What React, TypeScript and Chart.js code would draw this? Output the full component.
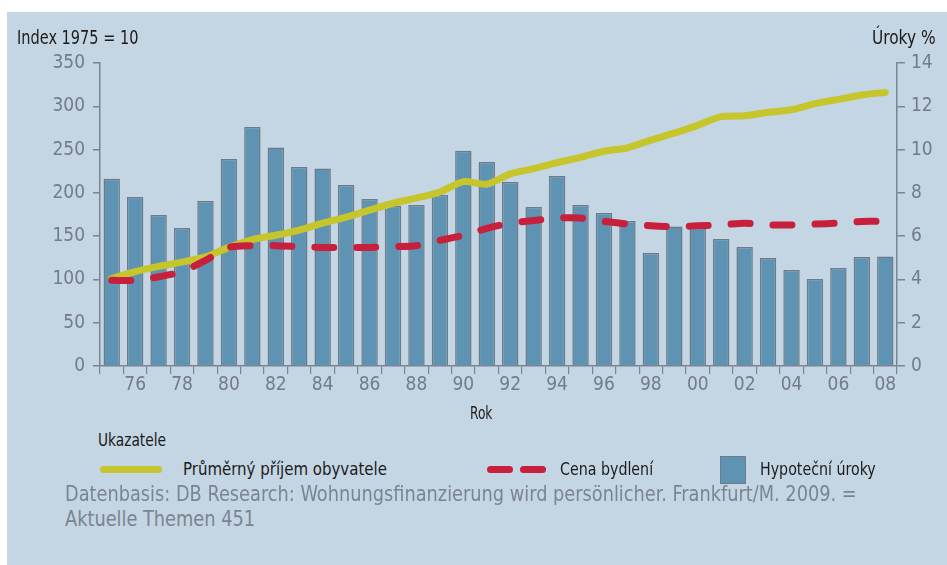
import React, { useEffect, useRef } from "react";
import { Chart, registerables } from "chart.js";

Chart.register(...registerables);

const years = [
  1975, 1976, 1977, 1978, 1979, 1980, 1981, 1982, 1983, 1984, 1985, 1986,
  1987, 1988, 1989, 1990, 1991, 1992, 1993, 1994, 1995, 1996, 1997, 1998,
  1999, 2000, 2001, 2002, 2003, 2004, 2005, 2006, 2007, 2008,
];

// Průměrný příjem obyvatele (index, left axis)
const income = [
  101, 109, 115, 120, 126, 137, 146, 151, 157, 165, 172, 180, 188, 194, 201,
  213, 210, 222, 228, 235, 241, 248, 252, 261, 269, 278, 288, 289, 293, 296,
  303, 308, 313, 316,
];

// Cena bydlení (index, left axis)
const housing = [
  99, 99, 103, 109, 122, 137, 139, 139, 138, 137, 137, 137, 138, 139, 145,
  151, 159, 165, 168, 171, 171, 167, 164, 162, 161, 162, 163, 165, 163, 163,
  164, 165, 167, 167,
];

// Hypoteční úroky (%, right axis)
const rates = [
  8.65, 7.81, 6.98, 6.38, 7.62, 9.57, 11.04, 10.1, 9.2, 9.12, 8.36, 7.72,
  7.4, 7.44, 7.9, 9.94, 9.43, 8.5, 7.35, 8.78, 7.44, 7.07, 6.7, 5.22, 6.45,
  6.38, 5.87, 5.5, 4.99, 4.44, 4.02, 4.53, 5.04, 5.06,
];

const leftTicks = [0, 50, 100, 150, 200, 250, 300, 350];
const rightTicks = [0, 2, 4, 6, 8, 10, 12, 14];

const FONT = "'Liberation Sans Narrow', 'Arial Narrow', 'DejaVu Sans Condensed', sans-serif";
const AXIS = "#7b8591";
const TICKTXT = "#737c87";
const YELLOW = "#c6c52c";
const RED = "#c8203c";
const BAR = "#5f93b4";
const BARBORDER = "#6e7a86";
const BG = "#c4d5e3";

function Txt(props: { x: number; y: number; size: number; sx?: number; color?: string; children: any }) {
  const { x, y, size, sx, color, children } = props;
  return (
    <div
      style={{
        position: "absolute",
        left: x - 7,
        top: y - 12 - size * 0.49,
        fontFamily: FONT,
        fontSize: size,
        lineHeight: "1",
        color: color || "#1c1c1c",
        whiteSpace: "nowrap",
        transform: "scaleX(" + (sx || 1) + ")",
        transformOrigin: "left center",
      }}
    >
      {children}
    </div>
  );
}

function Box(props: { x: number; y: number; w: number; h: number; style: any }) {
  const { x, y, w, h, style } = props;
  return (
    <div
      style={{
        position: "absolute",
        left: x - 7,
        top: y - 12,
        width: w,
        height: h,
        boxSizing: "border-box",
        ...style,
      }}
    />
  );
}

export default function App() {
  const ref = useRef<HTMLCanvasElement | null>(null);

  useEffect(() => {
    if (!ref.current) return;
    const chart = new Chart(ref.current, {
      type: "bar",
      data: {
        labels: years.map(String),
        datasets: [
          {
            type: "line",
            label: "Cena bydlení",
            data: housing,
            yAxisID: "y",
            borderColor: RED,
            borderWidth: 7,
            borderDash: [19, 23],
            borderCapStyle: "round",
            borderJoinStyle: "round",
            pointRadius: 0,
            tension: 0.25,
            order: 0,
          } as any,
          {
            type: "line",
            label: "Průměrný příjem obyvatele",
            data: income,
            yAxisID: "y",
            borderColor: YELLOW,
            borderWidth: 7,
            borderCapStyle: "round",
            borderJoinStyle: "round",
            pointRadius: 0,
            tension: 0.25,
            order: 1,
          } as any,
          {
            type: "bar",
            label: "Hypoteční úroky",
            data: rates,
            yAxisID: "y1",
            backgroundColor: BAR,
            borderColor: BARBORDER,
            borderWidth: 1.5,
            barPercentage: 0.7,
            categoryPercentage: 1,
            order: 2,
          } as any,
        ],
      },
      options: {
        animation: false,
        responsive: false,
        maintainAspectRatio: false,
        layout: { padding: { top: 51, left: 0, right: 0, bottom: 0 } },
        plugins: { legend: { display: false }, tooltip: { enabled: false } },
        scales: {
          x: {
            offset: true,
            afterFit: (s: any) => {
              s.height = 46;
            },
            grid: {
              offset: true,
              drawOnChartArea: false,
              drawTicks: true,
              tickLength: 8,
              color: AXIS,
              lineWidth: 1.2,
            },
            border: { display: true, color: AXIS, width: 1.5 },
            ticks: {
              autoSkip: false,
              maxRotation: 0,
              padding: 0,
              color: TICKTXT,
              font: { family: FONT, size: 19 },
              callback: (_v: any, i: number) => {
                const y = years[i];
                return y % 2 === 0 ? String(y).slice(2) : "";
              },
            },
          },
          y: {
            position: "left",
            min: 0,
            max: 350,
            afterFit: (s: any) => {
              s.width = 93;
            },
            afterBuildTicks: (s: any) => {
              s.ticks = leftTicks.map((v) => ({ value: v }));
            },
            grid: {
              drawOnChartArea: false,
              drawTicks: true,
              tickLength: 7,
              color: AXIS,
              lineWidth: 1.5,
            },
            border: { display: true, color: AXIS, width: 1.5 },
            ticks: {
              padding: 8,
              color: TICKTXT,
              font: { family: FONT, size: 19 },
            },
          },
          y1: {
            position: "right",
            min: 0,
            max: 14,
            afterFit: (s: any) => {
              s.width = 50;
            },
            afterBuildTicks: (s: any) => {
              s.ticks = rightTicks.map((v) => ({ value: v }));
            },
            grid: {
              drawOnChartArea: false,
              drawTicks: true,
              tickLength: 8,
              color: AXIS,
              lineWidth: 1.5,
            },
            border: { display: true, color: AXIS, width: 1.5 },
            ticks: {
              padding: 6,
              color: TICKTXT,
              font: { family: FONT, size: 19 },
            },
          },
        },
      } as any,
    });
    return () => chart.destroy();
  }, []);

  return (
    <div
      style={{
        position: "absolute",
        left: 7,
        top: 12,
        width: 940,
        height: 553,
        background: BG,
        overflow: "hidden",
      }}
    >
      <canvas ref={ref} width={940} height={400} style={{ position: "absolute", left: 0, top: 0 }} />
      <Txt x={17} y={37} size={19} sx={0.85}>Index 1975 = 10</Txt>
      <Txt x={872} y={37} size={19} sx={0.9}>Úroky %</Txt>
      <Txt x={470} y={413} size={17} sx={0.8}>Rok</Txt>
      <Txt x={98} y={440} size={17} sx={0.9}>Ukazatele</Txt>
      <Box x={100} y={466} w={62} h={7} style={{ background: YELLOW, borderRadius: 4 }} />
      <Txt x={183} y={469} size={17} sx={0.98}>Průměrný příjem obyvatele</Txt>
      <Box x={487} y={466} w={26} h={7} style={{ background: RED, borderRadius: 4 }} />
      <Box x={520} y={466} w={26} h={7} style={{ background: RED, borderRadius: 4 }} />
      <Txt x={560} y={469} size={17} sx={0.93}>Cena bydlení</Txt>
      <Box x={720} y={456} w={26} h={28} style={{ background: BAR, border: "1.5px solid " + BARBORDER }} />
      <Txt x={760} y={469} size={17} sx={0.93}>Hypoteční úroky</Txt>
      <Txt x={65} y={494} size={21} sx={0.94} color="#7b8590">
        Datenbasis: DB Research: Wohnungsfinanzierung wird persönlicher. Frankfurt/M. 2009. =
      </Txt>
      <Txt x={65} y={519} size={21} sx={0.94} color="#7b8590">
        Aktuelle Themen 451
      </Txt>
    </div>
  );
}
